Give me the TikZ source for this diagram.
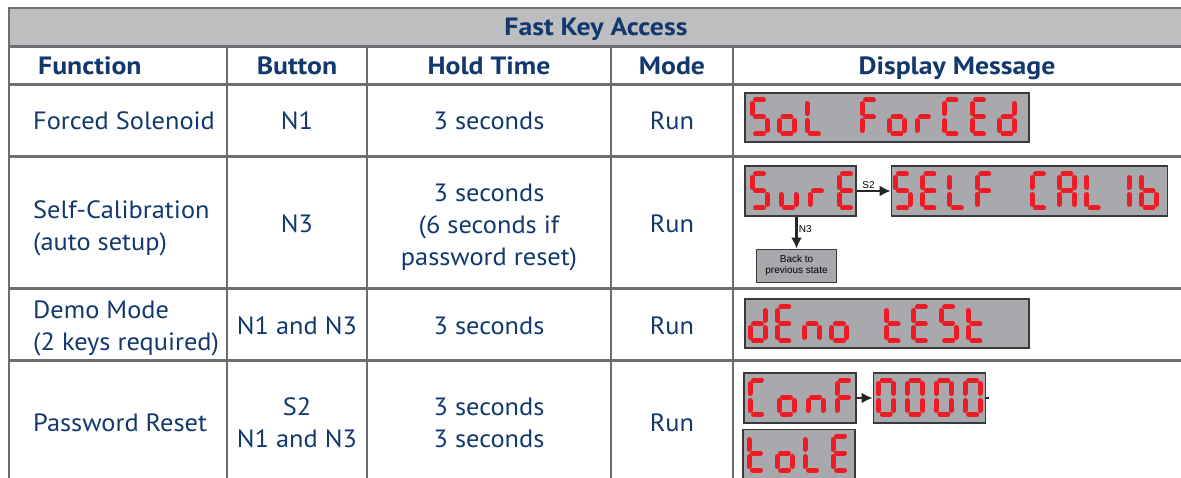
\documentclass[tikz,border=0pt]{standalone}
\usepackage{fontspec}
\setmainfont{PT Sans}[FakeStretch=1.055, BoldFeatures={FakeStretch=1.11}]
\newfontfamily\labelfont{Liberation Sans}
\usetikzlibrary{arrows.meta, positioning}

\definecolor{navy}{HTML}{12386E}
\definecolor{rulegray}{HTML}{6D6E71}
\definecolor{bandgray}{HTML}{BCBEC0}
\definecolor{lcdgray}{HTML}{A7A9AC}
\definecolor{lcdedge}{HTML}{3A3A3C}
\definecolor{lcdred}{HTML}{ED1C24}

% seven segment glyphs
\def\segw{15}\def\segh{34}\def\segg{3.5}
\expandafter\def\csname sp-a\endcsname{(\segg,0) -- (\segw-\segg,0)}
\expandafter\def\csname sp-b\endcsname{(\segw,\segg) -- (\segw,\segh/2-\segg)}
\expandafter\def\csname sp-c\endcsname{(\segw,\segh/2+\segg) -- (\segw,\segh-\segg)}
\expandafter\def\csname sp-d\endcsname{(\segg,\segh) -- (\segw-\segg,\segh)}
\expandafter\def\csname sp-e\endcsname{(0,\segh/2+\segg) -- (0,\segh-\segg)}
\expandafter\def\csname sp-f\endcsname{(0,\segg) -- (0,\segh/2-\segg)}
\expandafter\def\csname sp-g\endcsname{(\segg,\segh/2) -- (\segw-\segg,\segh/2)}

\expandafter\def\csname gl-S\endcsname{a,f,g,c,d}
\expandafter\def\csname gl-o\endcsname{g,c,d,e}
\expandafter\def\csname gl-L\endcsname{f,e,d}
\expandafter\def\csname gl-F\endcsname{a,f,g,e}
\expandafter\def\csname gl-r\endcsname{g,e}
\expandafter\def\csname gl-C\endcsname{a,f,e,d}
\expandafter\def\csname gl-E\endcsname{a,f,g,e,d}
\expandafter\def\csname gl-d\endcsname{b,c,g,e,d}
\expandafter\def\csname gl-u\endcsname{e,d,c}
\expandafter\def\csname gl-A\endcsname{a,b,c,e,f,g}
\expandafter\def\csname gl-1\endcsname{b,c}
\expandafter\def\csname gl-b\endcsname{f,e,g,c,d}
\expandafter\def\csname gl-n\endcsname{g,e,c}
\expandafter\def\csname gl-t\endcsname{f,e,g,d}
\expandafter\def\csname gl-0\endcsname{a,b,c,d,e,f}

% x, y of first glyph, pitch, characters (- is blank)
\newcommand{\lcdtext}[4]{%
  \foreach \ch [count=\i from 0] in {#4}{%
    \if\ch-\else
      \edef\seglist{\csname gl-\ch\endcsname}%
      \foreach \sg in \seglist{%
        \edef\segpath{\csname sp-\sg\endcsname}%
        \draw[lcdseg, shift={(#1+\i*#3,#2)}] \segpath;
      }%
    \fi
  }%
}

\begin{document}
\begin{tikzpicture}[x=1pt, y=-1pt,
    rule/.style={draw=rulegray, line width=2.6pt, line cap=rect},
    cell/.style={text=navy, align=center, inner sep=0pt, font=\fontsize{25}{32}\selectfont},
    head/.style={cell, anchor=base, font=\fontsize{25}{32}\selectfont\bfseries},
    func/.style={cell, anchor=west, align=left},
    lcd/.style={draw=lcdedge, fill=lcdgray, line width=1.2pt, inner sep=0pt, minimum height=50pt},
    lcdseg/.style={draw=lcdred, line width=5pt, line cap=round},
    arrow/.style={-{Latex[length=11pt, width=11pt]}, line width=2.6pt, draw=black!85},
    tag/.style={font=\labelfont\fontsize{10}{11}\selectfont, inner sep=1pt},
    backbox/.style={draw=lcdedge, fill=lcdgray, line width=1pt, minimum width=80pt, minimum height=33pt, inner sep=0pt, align=center, font=\labelfont\fontsize{10}{11.5}\selectfont}
  ]
    \useasboundingbox (0,0) rectangle (1181,478);

    \fill[bandgray] (9,8) rectangle (1181,46.5);
    \draw[rule] (9,8) -- (1181,8);
    \draw[rule] (9,46.5) -- (1181,46.5);
    \draw[rule] (9,84.5) -- (1181,84.5);
    \draw[rule] (9,156.5) -- (1181,156.5);
    \draw[rule] (9,288.5) -- (1181,288.5);
    \draw[rule] (9,360.5) -- (1181,360.5);
    \draw[rule] (9,8) -- (9,480);
    \draw[rule] (227,46.5) -- (227,480);
    \draw[rule] (367,46.5) -- (367,480);
    \draw[rule] (611,46.5) -- (611,480);
    \draw[rule] (733,46.5) -- (733,480);

    \node[head] (title) at (596,36) {Fast Key Access};
    \node[head, anchor=base west] (hfunc) at (38,75) {Function};
    \node[head] (hbutton) at (297,75) {Button};
    \node[head] (hhold) at (489,75) {Hold Time};
    \node[head] (hmode) at (672,75) {Mode};
    \node[head] (hdisplay) at (957,75) {Display Message};

    \node[func, anchor=base west] (f1) at (33,130) {Forced Solenoid};
    \node[cell, anchor=base] (b1) at (297,130) {N1};
    \node[cell, anchor=base] (t1) at (489,130) {3 seconds};
    \node[cell, anchor=base] (m1) at (672,130) {Run};

    \node[func] (f2) at (33,228.3) {Self-Calibration\\(auto setup)};
    \node[cell, anchor=base] (b2) at (297,232.7) {N3};
    \node[cell] (t2) at (489,228) {3 seconds\\(6 seconds if\\password reset)};
    \node[cell, anchor=base] (m2) at (672,232.7) {Run};

    \node[func] (f3) at (33,328.3) {Demo Mode\\(2 keys required)};
    \node[cell, anchor=base] (b3) at (297,335) {N1 and N3};
    \node[cell, anchor=base] (t3) at (489,335) {3 seconds};
    \node[cell, anchor=base] (m3) at (672,335) {Run};

    \node[func, anchor=base west] (f4) at (33,431.7) {Password Reset};
    \node[cell] (b4) at (297,422.5) {S2\\N1 and N3};
    \node[cell] (t4) at (489,422.4) {3 seconds\\3 seconds};
    \node[cell, anchor=base] (m4) at (672,431.7) {Run};

    \node[lcd, minimum width=284pt, minimum height=49pt] (sol) at (887,117.5) {};
    \lcdtext{752}{100}{27.5}{S,o,L,-,F,o,r,C,E,d}

    \node[lcd, minimum width=111pt] (sure) at (800.5,191) {};
    \lcdtext{752}{174}{29}{S,u,r,E}
    \node[lcd, minimum width=276pt, right=34pt of sure] (selfcal) {};
    \lcdtext{895}{174}{27.4}{S,E,L,F,-,C,A,L,1,b}
    \node[backbox, below=32pt of sure, xshift=-4pt] (back) {Back to\\previous state};
    \draw[arrow] (sure) -- node[tag, above, pos=0.35] {S2} (selfcal);
    \draw[arrow] (back.north |- sure.south) -- node[tag, right, pos=0.4] {N3} (back.north);

    \node[lcd, minimum width=284pt, minimum height=49pt] (demo) at (887,323.5) {};
    \lcdtext{750}{307}{27.3}{d,E,n,o,-,t,E,S,t}

    \node[lcd, minimum width=112pt] (conf) at (800,398) {};
    \lcdtext{750}{380}{29}{C,o,n,F}
    \node[lcd, minimum width=112pt, right=16pt of conf] (zeros) {};
    \lcdtext{878.7}{380}{28.8}{0,0,0,0}
    \node[lcd, minimum width=112pt, minimum height=49pt, below=5pt of conf, xshift=-1pt] (tole) {};
    \lcdtext{749}{436}{28}{t,o,L,E}
    \coordinate[right=3pt of zeros] (zstub);
    \draw[arrow] (conf) -- (zeros);
    \draw[line width=1.5pt, draw=black!85] (zeros) -- (zstub);
\end{tikzpicture}
\end{document}
